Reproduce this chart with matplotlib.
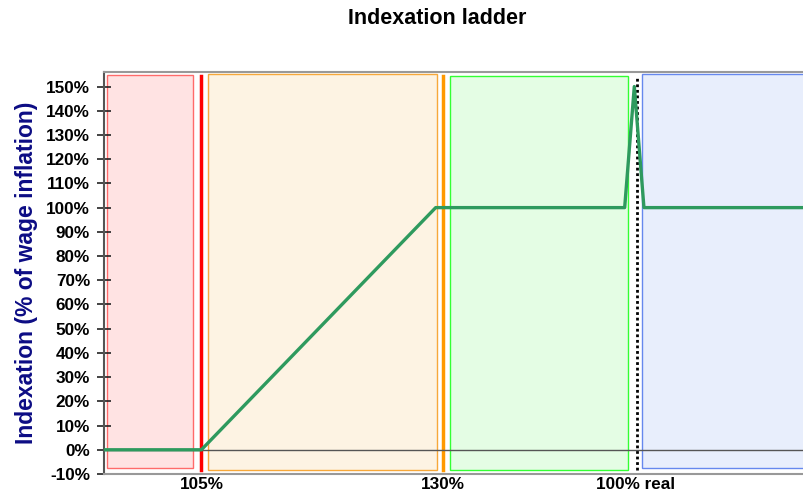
import matplotlib
matplotlib.use("Agg")
import matplotlib.pyplot as plt
from matplotlib.patches import Rectangle

plt.rcParams['font.family'] = ['Liberation Sans', 'DejaVu Sans']

# Data
line_x = [94.9, 105.0, 129.3, 148.9, 149.9, 150.9, 167.5]
line_y = [0, 0, 100, 100, 150, 100, 100]
tick_pos = [105, 130, 150]
tick_labels = ["105%", "130%", "100% real"]
y_ticks = list(range(-10, 151, 10))
# zone boxes: (x0, x1, y0, y1, face, edge)
zones = [
    (95.2, 104.1, -7.5, 154.8, "#ffe3e3", "#ff6b6b"),
    (105.7, 129.4, -8.3, 155.2, "#fdf3e3", "#f7a83a"),
    (130.8, 149.2, -8.3, 154.4, "#e4fde4", "#33ff33"),
    (150.7, 170.0, -7.5, 155.2, "#e8eefc", "#6688ee"),
]
vlines = [(105.0, "#ff0000"), (130.1, "#ff9900")]
real_line = 150.2

fig = plt.figure(figsize=(8.04, 4.92), dpi=100)
ax = fig.add_axes([104/804, 1-474/492, 700/804, (474-72)/492])
ax.set_xlim(94.9, 167.5)
ax.set_ylim(-10, 156)

for x0, x1, y0, y1, fc, ec in zones:
    ax.add_patch(Rectangle((x0, y0), x1 - x0, y1 - y0, facecolor=fc, edgecolor=ec, linewidth=1, zorder=1))

for xv, c in vlines:
    ax.axvline(xv, ymin=0.01, ymax=0.99, color=c, linewidth=2.5, zorder=2)
ax.axvline(real_line, ymin=0.01, ymax=0.99, color="black", linewidth=2, linestyle=(0, (1, 1)), zorder=2)

ax.axhline(0, color="#555555", linewidth=1, zorder=3)
ax.plot(line_x, line_y, color="#2e9a5e", linewidth=2.4, zorder=4)

ax.set_yticks(y_ticks)
ax.set_yticklabels([f"{v}%" for v in y_ticks], fontsize=12.3, fontweight="bold")
ax.set_xticks(tick_pos)
ax.set_xticklabels(tick_labels, fontsize=12.3, fontweight="bold")
ax.tick_params(axis="x", length=0, pad=2)
ax.tick_params(axis="y", direction="inout", length=10, width=1.2, color="#222222", pad=5)

for s in ["top", "bottom"]:
    ax.spines[s].set_color("#999999")
    ax.spines[s].set_linewidth(1.5)
ax.spines["left"].set_color("#555555")
ax.spines["left"].set_linewidth(1.5)
ax.spines["right"].set_visible(False)

ax.set_ylabel("Indexation (% of wage inflation)", fontsize=16.5, fontweight="bold", color="#0c0c84", labelpad=6)
fig.text(437/804, 1-18/492, "Indexation ladder", ha="center", va="center", fontsize=15.5, fontweight="bold")

fig.savefig("out.png", dpi=100)
